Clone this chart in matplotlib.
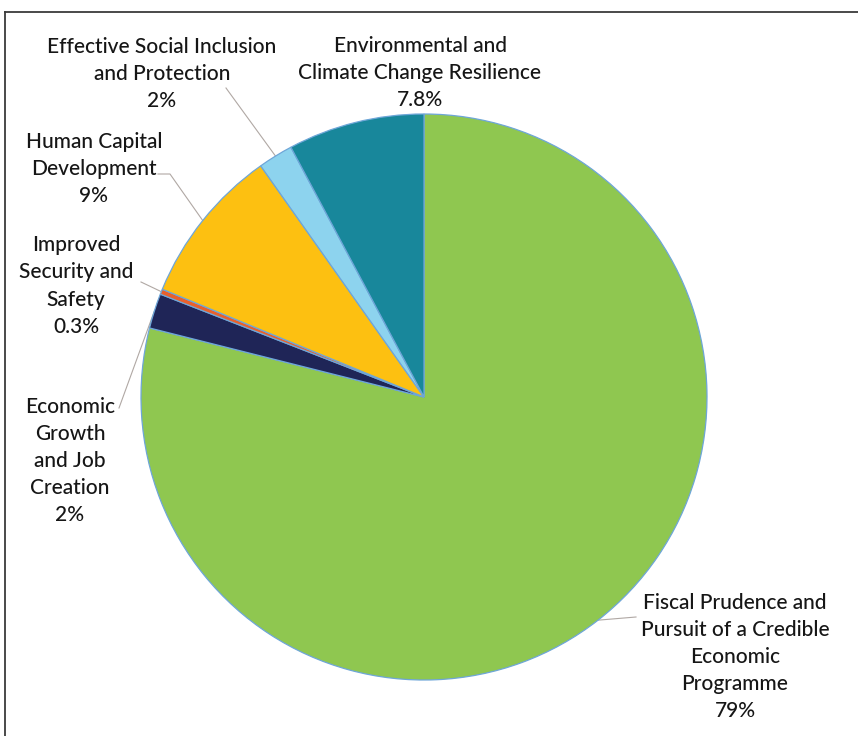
import numpy as np
import matplotlib
matplotlib.use("Agg")
import matplotlib.pyplot as plt
from matplotlib.lines import Line2D

plt.rcParams['font.family'] = ['Lato', 'DejaVu Sans']

# budget shares by pillar (percent), drawn clockwise from 12 o'clock
pillars = [
    "Fiscal Prudence and\nPursuit of a Credible\nEconomic\nProgramme",
    "Economic\nGrowth\nand Job\nCreation",
    "Improved\nSecurity and\nSafety",
    "Human Capital\nDevelopment",
    "Effective Social Inclusion\nand Protection",
    "Environmental and\nClimate Change Resilience",
]
shares = [79, 2, 0.3, 9, 2, 7.8]
share_labels = ["79%", "2%", "0.3%", "9%", "2%", "7.8%"]
colors = ["#8fc750", "#1f2557", "#e8602c", "#fdc011", "#8dd3ee", "#18879b"]

W, H = 858, 736


def px(x, y):
    # pixel position (origin top-left) -> data coords
    return x, H - y


fig = plt.figure(figsize=(W / 100, H / 100), dpi=100)
ax = fig.add_axes([0, 0, 1, 1])

cx, cy = px(424, 397)
R = 283
wedges, _ = ax.pie(shares, colors=colors, startangle=90, counterclock=False,
                   center=(cx, cy), radius=R,
                   wedgeprops=dict(edgecolor="#6ea6d8", linewidth=0.9))

ax.set_xlim(0, W)
ax.set_ylim(0, H)
ax.set_aspect("equal")
ax.axis("off")

# label centre (px) and leader line start (px) for each slice
label_pos = [(735, 657), (70, 461), (76, 286), (94, 169), (162, 74), (420, 73)]
leader_start = [[(636, 617)],
                [(119, 408)],
                [(141, 282)],
                [(158, 174), (170, 174)],
                [(226, 88)],
                None]

for i, w in enumerate(wedges):
    x, y = px(*label_pos[i])
    ax.text(x, y, pillars[i] + "\n" + share_labels[i], ha="center", va="center",
            fontsize=15, color="#161616", linespacing=1.45, fontweight="medium")
    if leader_start[i] is None:
        continue
    mid = np.deg2rad((w.theta1 + w.theta2) / 2)
    ex, ey = cx + R * np.cos(mid), cy + R * np.sin(mid)
    pts = [px(*p) for p in leader_start[i]] + [(ex, ey)]
    ax.plot([p[0] for p in pts], [p[1] for p in pts], color="#b0a8a4",
            lw=0.8, zorder=0.5)

# thin frame along top and left
fig.add_artist(Line2D([5 / W, 1], [1 - 12 / H, 1 - 12 / H],
                      transform=fig.transFigure, color="#3a3a3a", lw=1.3))
fig.add_artist(Line2D([5 / W, 5 / W], [0, 1 - 12 / H],
                      transform=fig.transFigure, color="#3a3a3a", lw=1.3))

fig.savefig("out.png", dpi=100, facecolor="white")
